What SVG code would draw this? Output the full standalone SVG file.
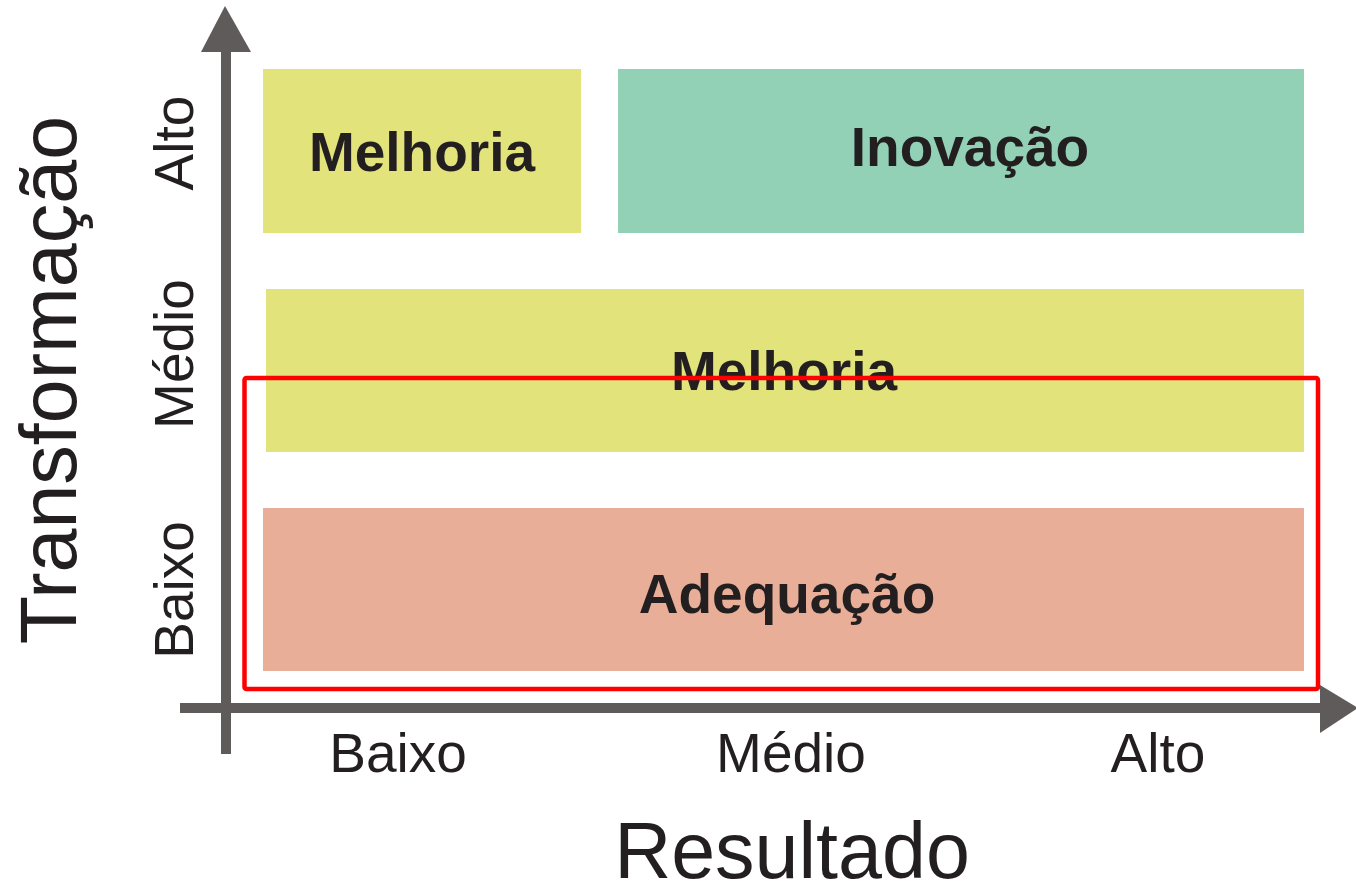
<svg xmlns="http://www.w3.org/2000/svg" width="1356" height="886" viewBox="0 0 1356 886">
<style>
.box-label{font-family:"Liberation Sans",Arial,sans-serif;font-weight:bold;font-size:55px;fill:#231f20;text-anchor:middle}
.axis-label{font-family:"Liberation Sans",Arial,sans-serif;font-size:55px;fill:#231f20;text-anchor:middle}
.axis-title{font-family:"Liberation Sans",Arial,sans-serif;font-size:79px;fill:#231f20;text-anchor:middle}
.axis{fill:#5f5b5a}
</style>
<rect width="1356" height="886" fill="#ffffff"/>
<g id="melhoria-top"><rect x="263" y="69" width="318" height="164" fill="#e2e37a"/><text class="box-label" x="422" y="171">Melhoria</text></g>
<g id="inovacao"><rect x="618" y="69" width="686" height="164" fill="#93d1b6"/><text class="box-label" x="970" y="166">Inovação</text></g>
<g id="melhoria-mid"><rect x="266" y="289" width="1038" height="163" fill="#e2e37a"/><text class="box-label" x="784" y="390">Melhoria</text></g>
<g id="adequacao"><rect x="263" y="508" width="1041" height="163" fill="#e8ae97"/><text class="box-label" x="787" y="613">Adequação</text></g>
<g id="axes">
<rect class="axis" x="221" y="48" width="10" height="706"/>
<polygon class="axis" points="225,6 251,52 201,52"/>
<rect class="axis" x="180" y="703" width="1142" height="10"/>
<polygon class="axis" points="1358,708 1320,685 1320,733"/>
</g>
<g id="highlight"><rect x="244.5" y="378" width="1073.5" height="311" rx="2" fill="none" stroke="#ff0000" stroke-width="4.5"/></g>
<g id="labels">
<text class="axis-label" x="398" y="772">Baixo</text>
<text class="axis-label" x="791" y="772">Médio</text>
<text class="axis-label" x="1158" y="772">Alto</text>
<text class="axis-title" x="792" y="878">Resultado</text>
<text class="axis-label" transform="translate(193,590) rotate(-90)">Baixo</text>
<text class="axis-label" transform="translate(193,354) rotate(-90)">Médio</text>
<text class="axis-label" transform="translate(193,143) rotate(-90)">Alto</text>
<text class="axis-title" transform="translate(76,380) rotate(-90)">Transformação</text>
</g>
</svg>
